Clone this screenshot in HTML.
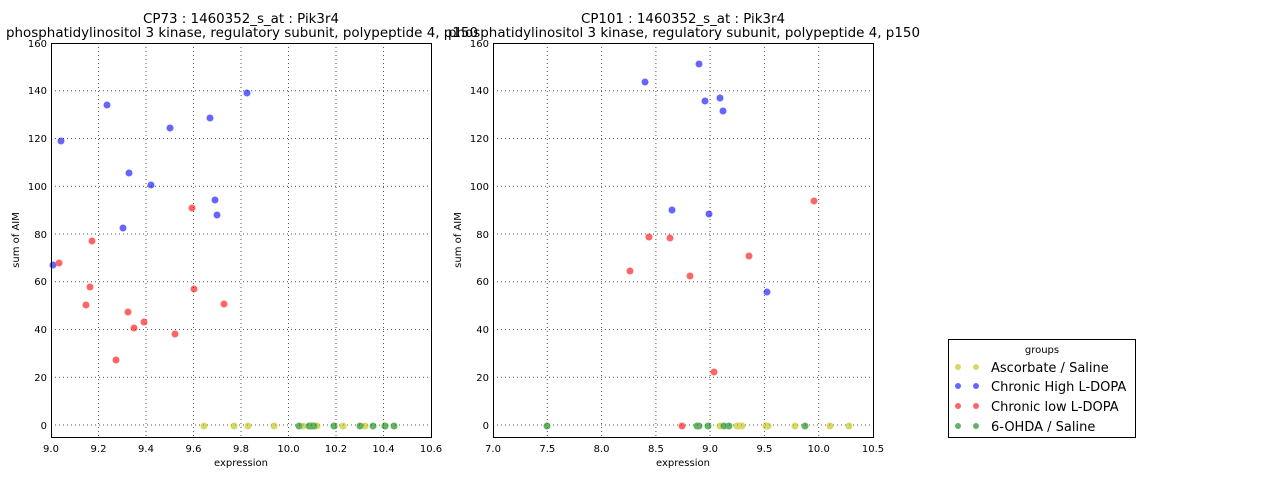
<!DOCTYPE html>
<html><head><style>body{margin:0;background:#fff}svg{display:block;font-family:"DejaVu Sans","Liberation Sans",sans-serif}</style></head>
<body>
<svg width="1280" height="480" viewBox="0 0 1280 480" xmlns="http://www.w3.org/2000/svg">
<rect width="1280" height="480" fill="#fff"/>
<g stroke="#555" stroke-width="1" stroke-dasharray="1,3">
<line x1="98.5" y1="43" x2="98.5" y2="437"/><line x1="146" y1="43" x2="146" y2="437"/><line x1="193.5" y1="43" x2="193.5" y2="437"/><line x1="241" y1="43" x2="241" y2="437"/><line x1="288.5" y1="43" x2="288.5" y2="437"/><line x1="336" y1="43" x2="336" y2="437"/><line x1="383.5" y1="43" x2="383.5" y2="437"/>
<line x1="51" y1="425" x2="431" y2="425"/><line x1="51" y1="377.2" x2="431" y2="377.2"/><line x1="51" y1="329.5" x2="431" y2="329.5"/><line x1="51" y1="281.7" x2="431" y2="281.7"/><line x1="51" y1="234" x2="431" y2="234"/><line x1="51" y1="186.2" x2="431" y2="186.2"/><line x1="51" y1="138.5" x2="431" y2="138.5"/><line x1="51" y1="90.7" x2="431" y2="90.7"/>
<line x1="547.3" y1="43" x2="547.3" y2="437"/><line x1="601.6" y1="43" x2="601.6" y2="437"/><line x1="655.9" y1="43" x2="655.9" y2="437"/><line x1="710.1" y1="43" x2="710.1" y2="437"/><line x1="764.4" y1="43" x2="764.4" y2="437"/><line x1="818.7" y1="43" x2="818.7" y2="437"/>
<line x1="493" y1="425" x2="873" y2="425"/><line x1="493" y1="377.2" x2="873" y2="377.2"/><line x1="493" y1="329.5" x2="873" y2="329.5"/><line x1="493" y1="281.7" x2="873" y2="281.7"/><line x1="493" y1="234" x2="873" y2="234"/><line x1="493" y1="186.2" x2="873" y2="186.2"/><line x1="493" y1="138.5" x2="873" y2="138.5"/><line x1="493" y1="90.7" x2="873" y2="90.7"/>
</g>
<g opacity="0.6">
<g fill="#0000ff">
<circle cx="53" cy="265" r="3.5"/><circle cx="61" cy="141" r="3.5"/><circle cx="107" cy="105" r="3.5"/><circle cx="129" cy="173" r="3.5"/><circle cx="123" cy="228" r="3.5"/><circle cx="151" cy="185" r="3.5"/><circle cx="170" cy="128" r="3.5"/><circle cx="210" cy="118" r="3.5"/><circle cx="215" cy="200" r="3.5"/><circle cx="217" cy="215" r="3.5"/><circle cx="247" cy="93" r="3.5"/>
<circle cx="645" cy="82" r="3.5"/><circle cx="699" cy="64" r="3.5"/><circle cx="705" cy="101" r="3.5"/><circle cx="720" cy="98" r="3.5"/><circle cx="723" cy="111" r="3.5"/><circle cx="672" cy="210" r="3.5"/><circle cx="709" cy="214" r="3.5"/><circle cx="767" cy="292" r="3.5"/>
</g>
<g fill="#ff0000">
<circle cx="59" cy="263" r="3.5"/><circle cx="92" cy="241" r="3.5"/><circle cx="90" cy="287" r="3.5"/><circle cx="86" cy="305" r="3.5"/><circle cx="128" cy="312" r="3.5"/><circle cx="134" cy="328" r="3.5"/><circle cx="144" cy="322" r="3.5"/><circle cx="116" cy="360" r="3.5"/><circle cx="175" cy="334" r="3.5"/><circle cx="192" cy="208" r="3.5"/><circle cx="194" cy="289" r="3.5"/><circle cx="224" cy="304" r="3.5"/>
<circle cx="630" cy="271" r="3.5"/><circle cx="649" cy="237" r="3.5"/><circle cx="670" cy="238" r="3.5"/><circle cx="690" cy="276" r="3.5"/><circle cx="749" cy="256" r="3.5"/><circle cx="714" cy="372" r="3.5"/><circle cx="814" cy="201" r="3.5"/><circle cx="682" cy="426" r="3.5"/>
</g>
<g fill="#bfbf00">
<circle cx="204" cy="426" r="3.5"/><circle cx="234" cy="426" r="3.5"/><circle cx="248" cy="426" r="3.5"/><circle cx="274" cy="426" r="3.5"/><circle cx="303" cy="426" r="3.5"/><circle cx="317" cy="426" r="3.5"/><circle cx="343" cy="426" r="3.5"/><circle cx="365" cy="426" r="3.5"/>
<circle cx="720" cy="426" r="3.5"/><circle cx="737" cy="426" r="3.5"/><circle cx="739" cy="426" r="3.5"/><circle cx="742" cy="426" r="3.5"/><circle cx="766" cy="426" r="3.5"/><circle cx="768" cy="426" r="3.5"/><circle cx="795" cy="426" r="3.5"/><circle cx="830" cy="426" r="3.5"/><circle cx="849" cy="426" r="3.5"/>
</g>
<g fill="#008000">
<circle cx="299" cy="426" r="3.5"/><circle cx="309" cy="426" r="3.5"/><circle cx="310" cy="426" r="3.5"/><circle cx="312" cy="426" r="3.5"/><circle cx="314" cy="426" r="3.5"/><circle cx="334" cy="426" r="3.5"/><circle cx="334" cy="426" r="3.5"/><circle cx="360" cy="426" r="3.5"/><circle cx="373" cy="426" r="3.5"/><circle cx="385" cy="426" r="3.5"/><circle cx="385" cy="426" r="3.5"/><circle cx="394" cy="426" r="3.5"/>
<circle cx="547" cy="426" r="3.5"/><circle cx="697" cy="426" r="3.5"/><circle cx="699" cy="426" r="3.5"/><circle cx="708" cy="426" r="3.5"/><circle cx="724" cy="426" r="3.5"/><circle cx="729" cy="426" r="3.5"/><circle cx="805" cy="426" r="3.5"/>
</g>
</g>
<g fill="none" stroke="#000" stroke-width="1">
<rect x="51.5" y="43.5" width="380" height="394"/>
<rect x="493.5" y="43.5" width="380" height="394"/>
<rect x="948.5" y="339.5" width="187" height="98"/>
</g>
<g font-size="10" fill="#000" text-anchor="middle">
<text x="51" y="452">9.0</text><text x="98.5" y="452">9.2</text><text x="146" y="452">9.4</text><text x="193.5" y="452">9.6</text><text x="241" y="452">9.8</text><text x="288.5" y="452">10.0</text><text x="336" y="452">10.2</text><text x="383.5" y="452">10.4</text><text x="431" y="452">10.6</text>
<text x="493" y="452">7.0</text><text x="547.3" y="452">7.5</text><text x="601.6" y="452">8.0</text><text x="655.9" y="452">8.5</text><text x="710.1" y="452">9.0</text><text x="764.4" y="452">9.5</text><text x="818.7" y="452">10.0</text><text x="873" y="452">10.5</text>
<text x="241" y="466">expression</text><text x="683" y="466">expression</text>
</g>
<g font-size="10" fill="#000" text-anchor="end">
<text x="47" y="429">0</text><text x="47" y="381">20</text><text x="47" y="333">40</text><text x="47" y="285">60</text><text x="47" y="238">80</text><text x="47" y="190">100</text><text x="47" y="142">120</text><text x="47" y="94">140</text><text x="47" y="47">160</text>
<text x="489" y="429">0</text><text x="489" y="381">20</text><text x="489" y="333">40</text><text x="489" y="285">60</text><text x="489" y="238">80</text><text x="489" y="190">100</text><text x="489" y="142">120</text><text x="489" y="94">140</text><text x="489" y="47">160</text>
</g>
<text font-size="10" transform="translate(19,240) rotate(-90)" text-anchor="middle">sum of AIM</text>
<text font-size="10" transform="translate(461,240) rotate(-90)" text-anchor="middle">sum of AIM</text>
<g font-size="13">
<text x="143" y="23" textLength="196" lengthAdjust="spacingAndGlyphs">CP73 : 1460352_s_at : Pik3r4</text>
<text x="6" y="37" textLength="472" lengthAdjust="spacingAndGlyphs">phosphatidylinositol 3 kinase, regulatory subunit, polypeptide 4, p150</text>
<text x="581" y="23" textLength="204" lengthAdjust="spacingAndGlyphs">CP101 : 1460352_s_at : Pik3r4</text>
<text x="448" y="37" textLength="472" lengthAdjust="spacingAndGlyphs">phosphatidylinositol 3 kinase, regulatory subunit, polypeptide 4, p150</text>
</g>
<text x="1042" y="353" font-size="10" text-anchor="middle">groups</text>
<g opacity="0.6">
<circle cx="958" cy="367" r="3" fill="#bfbf00"/><circle cx="976" cy="367" r="3" fill="#bfbf00"/>
<circle cx="958" cy="386" r="3" fill="#0000ff"/><circle cx="976" cy="386" r="3" fill="#0000ff"/>
<circle cx="958" cy="406" r="3" fill="#ff0000"/><circle cx="976" cy="406" r="3" fill="#ff0000"/>
<circle cx="958" cy="426" r="3" fill="#008000"/><circle cx="976" cy="426" r="3" fill="#008000"/>
</g>
<g font-size="13">
<text x="991" y="372">Ascorbate / Saline</text>
<text x="991" y="391">Chronic High L-DOPA</text>
<text x="991" y="411">Chronic low L-DOPA</text>
<text x="991" y="431">6-OHDA / Saline</text>
</g>
</svg>
</body></html>
